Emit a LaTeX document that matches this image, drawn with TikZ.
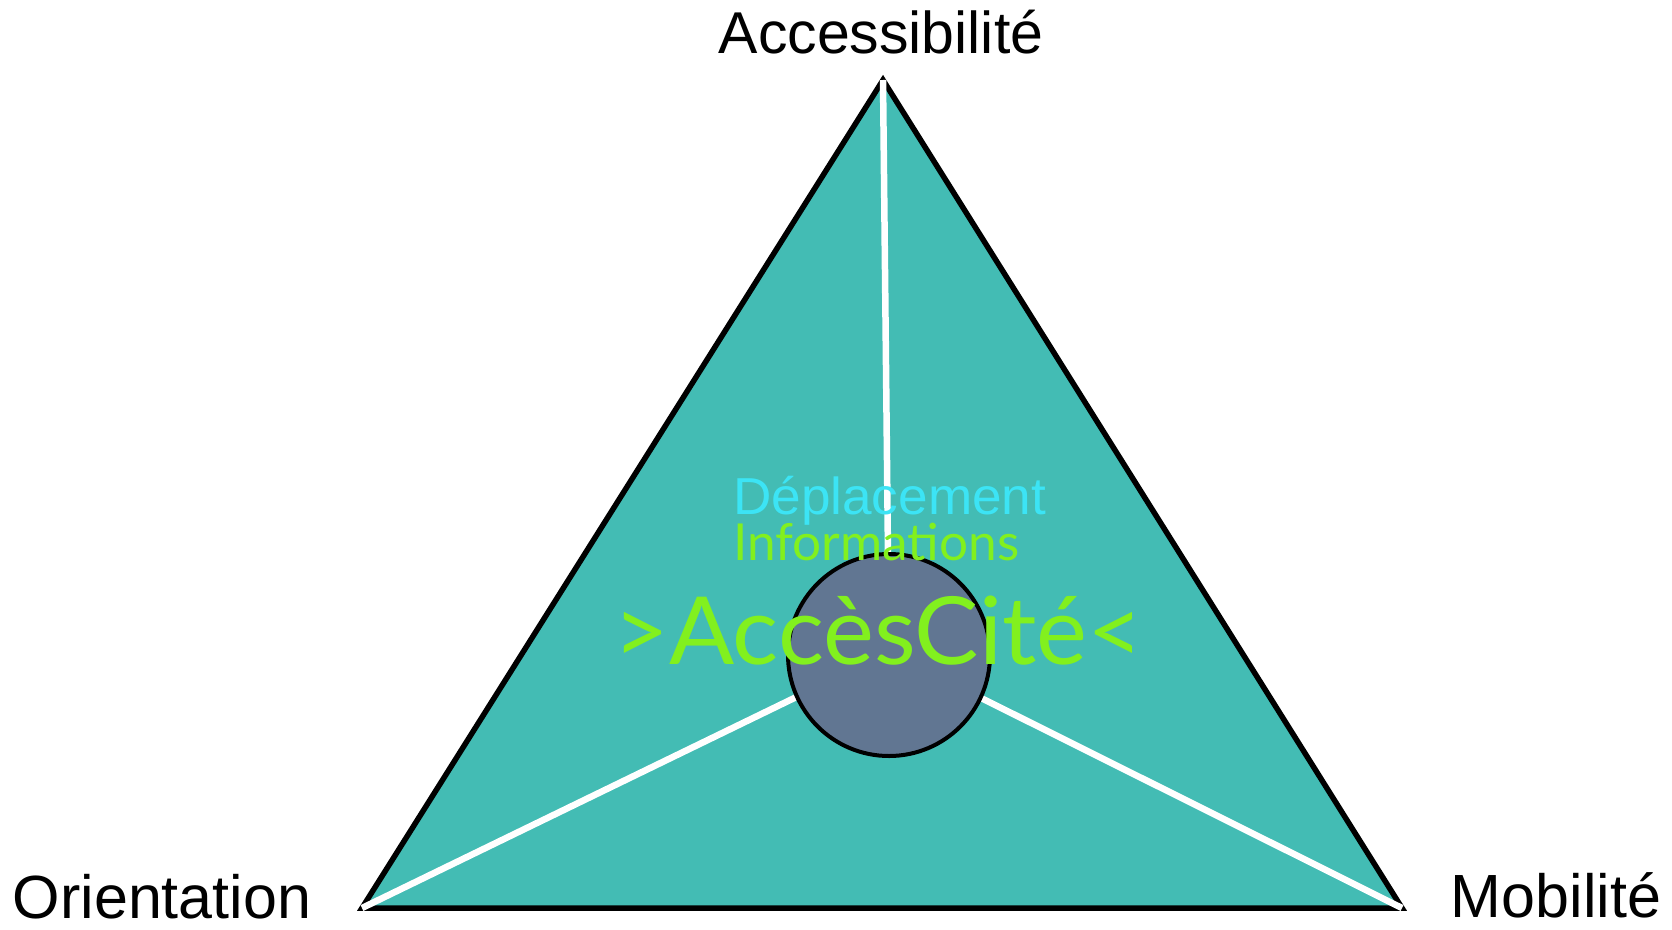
\documentclass[tikz,border=0pt]{standalone}
\usepackage{fontspec}
\usepackage{graphicx}
\setmainfont{Liberation Sans}
\newfontfamily\gillfont{Lato}
\definecolor{trifill}{RGB}{67,188,180}
\definecolor{discfill}{RGB}{97,118,146}
\definecolor{limegreen}{RGB}{130,240,30}
\definecolor{skycyan}{RGB}{60,228,245}
\tikzset{
  corner/.style={anchor=base, inner sep=0pt, font=\fontsize{61}{64}\selectfont, text=black},
  spoke/.style={draw=white, line width=6.5pt},
  tri/.style={draw=black, fill=trifill, line width=5.5pt, line join=miter},
  disc/.style={circle, draw=black, fill=discfill, line width=4pt, minimum size=202pt, inner sep=0pt},
  inner/.style={anchor=base west, inner sep=0pt}
}
\begin{document}
\begin{tikzpicture}[x=1pt, y=-1pt]
\useasboundingbox (0,0) rectangle (1672,929);
\coordinate (A) at (883,80);
\coordinate (O) at (362,908);
\coordinate (M) at (1402,908);
\coordinate (C) at (889,652);
\draw[tri] (A) -- (M) -- (O) -- cycle;
\draw[spoke] (C) -- (A);
\draw[spoke] (C) -- (O);
\draw[spoke] (C) -- (M);
\node[disc] (hub) at (889,655) {};
\node[corner, font=\fontsize{59}{62}\selectfont] (acc) at (881,53) {Accessibilité};
\node[corner] (ori) at (162,918) {Orientation};
\node[corner] (mob) at (1556,917) {Mobilité};
\node[inner, text=skycyan] (dep) at (733,514) {\resizebox{313pt}{\height}{\fontsize{52}{56}\selectfont Déplacement}};
\node[inner, text=limegreen] (inf) at (733,560) {\resizebox{286pt}{\height}{\gillfont\fontsize{51}{54}\selectfont Informations}};
\node[inner, text=limegreen] (name) at (613,664) {\resizebox{530pt}{\height}{\gillfont\fontsize{94}{98}\selectfont >AccèsCité<}};
\end{tikzpicture}
\end{document}
